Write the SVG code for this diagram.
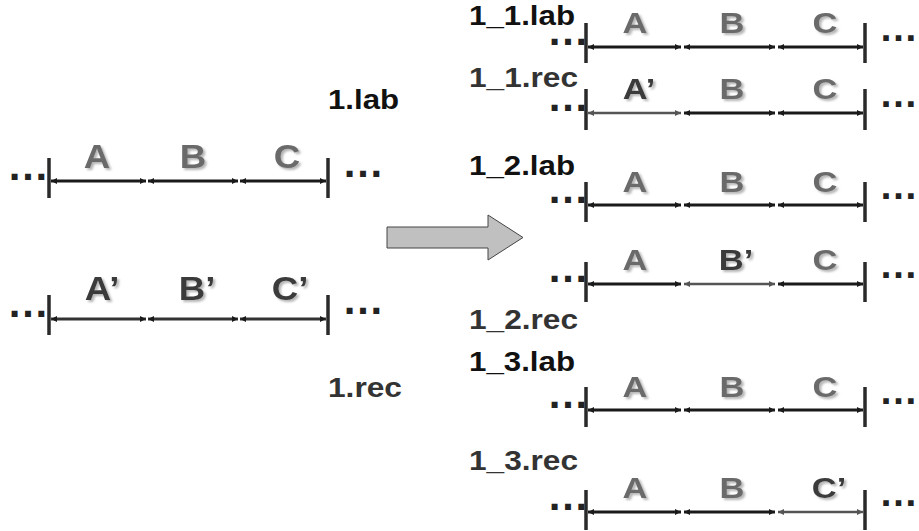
<svg xmlns="http://www.w3.org/2000/svg" width="919" height="531" viewBox="0 0 919 531">
<style>
  .lbl{font-family:"Liberation Sans",Arial,sans-serif;font-weight:bold;font-size:27px}
  .lab{fill:#111}
  .rec{fill:#333}
  .L{font-family:"Liberation Sans",Arial,sans-serif;font-weight:bold;text-anchor:middle;fill:#6b6b6b;filter:url(#sh)}
  .P{fill:#3a3a3a}
  .big{font-size:34px}
  .sm{font-size:30px}
  .dots{font-family:"Liberation Sans",Arial,sans-serif;font-weight:bold;font-size:42px;fill:#222}
  .rd{font-size:39px}
  .tick{stroke:#2a2a2a;stroke-width:3.5}
  .seg{stroke:#1a1a1a;stroke-width:3;marker-start:url(#ah);marker-end:url(#ah)}
  .seg2{stroke:#555;stroke-width:2.5;marker-start:url(#ah2);marker-end:url(#ah2)}
  .segd{stroke:#333;stroke-width:3;marker-start:url(#ah);marker-end:url(#ah)}
</style>
<defs>
  <filter id="sh" x="-20%" y="-20%" width="150%" height="150%">
    <feDropShadow dx="2" dy="2" stdDeviation="0.8" flood-color="#b5b5b5" flood-opacity="1"/>
  </filter>
  <marker id="ah" markerUnits="userSpaceOnUse" markerWidth="7" markerHeight="7" refX="6" refY="3.5" orient="auto-start-reverse">
    <path d="M0,0.5 L6,3.5 L0,6.5 z" fill="#1a1a1a"/>
  </marker>
  <marker id="ah2" markerUnits="userSpaceOnUse" markerWidth="7" markerHeight="7" refX="6" refY="3.5" orient="auto-start-reverse">
    <path d="M0,0.5 L6,3.5 L0,6.5 z" fill="#555"/>
  </marker>
</defs>

<!-- left top row -->
<g id="left-lab">
  <text class="dots" x="7" y="180">…</text>
  <line class="tick" x1="49" y1="158" x2="49" y2="198"/>
  <line class="tick" x1="328" y1="158" x2="328" y2="198"/>
  <line class="seg" x1="51" y1="181" x2="146" y2="181"/>
  <line class="seg" x1="148" y1="181" x2="238" y2="181"/>
  <line class="seg" x1="240" y1="181" x2="326" y2="181"/>
  <text class="L big" transform="translate(97,168) scale(1.08,1)">A</text>
  <text class="L big" transform="translate(193,168) scale(1.08,1)">B</text>
  <text class="L big" transform="translate(287,168) scale(1.08,1)">C</text>
  <text class="dots" x="342" y="177">…</text>
  <text class="lbl lab" x="328" y="109" textLength="71" lengthAdjust="spacingAndGlyphs">1.lab</text>
</g>

<!-- left bottom row -->
<g id="left-rec">
  <text class="dots" x="7" y="317">…</text>
  <line class="tick" x1="49" y1="295" x2="49" y2="335"/>
  <line class="tick" x1="328" y1="295" x2="328" y2="335"/>
  <line class="segd" x1="51" y1="319" x2="146" y2="319"/>
  <line class="segd" x1="148" y1="319" x2="238" y2="319"/>
  <line class="segd" x1="240" y1="319" x2="326" y2="319"/>
  <text class="L big P" transform="translate(102,300) scale(1.08,1)">A’</text>
  <text class="L big P" transform="translate(197,300) scale(1.08,1)">B’</text>
  <text class="L big P" transform="translate(290,300) scale(1.08,1)">C’</text>
  <text class="dots" x="342" y="314">…</text>
  <text class="lbl rec" x="328" y="397" textLength="74" lengthAdjust="spacingAndGlyphs">1.rec</text>
</g>

<!-- big arrow -->
<g id="arrow">
  <path d="M387,227 L488,227 L488,215 L523,237.5 L488,260 L488,248 L387,248 Z" fill="#c0c0c0" stroke="#444" stroke-width="1"/>
</g>

<!-- right rows -->
<g id="r1">
  <text class="lbl lab" x="469" y="25" textLength="106" lengthAdjust="spacingAndGlyphs">1_1.lab</text>
  <text class="dots" x="547" y="45">…</text>
  <line class="tick" x1="586" y1="23" x2="586" y2="63"/>
  <line class="tick" x1="865" y1="23" x2="865" y2="63"/>
  <line class="seg" x1="588" y1="47" x2="681" y2="47"/>
  <line class="seg" x1="684" y1="47" x2="775" y2="47"/>
  <line class="seg" x1="778" y1="47" x2="863" y2="47"/>
  <text class="L sm" transform="translate(635,33) scale(1.15,1)">A</text>
  <text class="L sm" transform="translate(732,33) scale(1.15,1)">B</text>
  <text class="L sm" transform="translate(825,33) scale(1.15,1)">C</text>
  <text class="dots rd" x="879" y="41">…</text>
</g>
<g id="r2">
  <text class="lbl rec" x="469" y="87" textLength="109" lengthAdjust="spacingAndGlyphs">1_1.rec</text>
  <text class="dots" x="547" y="111">…</text>
  <line class="tick" x1="586" y1="89" x2="586" y2="130"/>
  <line class="tick" x1="865" y1="89" x2="865" y2="130"/>
  <line class="seg2" x1="588" y1="113" x2="681" y2="113"/>
  <line class="seg" x1="684" y1="113" x2="775" y2="113"/>
  <line class="seg" x1="778" y1="113" x2="863" y2="113"/>
  <text class="L sm P" transform="translate(639,99) scale(1.15,1)">A’</text>
  <text class="L sm" transform="translate(732,99) scale(1.15,1)">B</text>
  <text class="L sm" transform="translate(825,99) scale(1.15,1)">C</text>
  <text class="dots rd" x="879" y="107">…</text>
</g>
<g id="r3">
  <text class="lbl lab" x="469" y="175" textLength="106" lengthAdjust="spacingAndGlyphs">1_2.lab</text>
  <text class="dots" x="547" y="203">…</text>
  <line class="tick" x1="586" y1="182" x2="586" y2="222"/>
  <line class="tick" x1="865" y1="182" x2="865" y2="222"/>
  <line class="seg" x1="588" y1="205" x2="681" y2="205"/>
  <line class="seg" x1="684" y1="205" x2="775" y2="205"/>
  <line class="seg" x1="778" y1="205" x2="863" y2="205"/>
  <text class="L sm" transform="translate(635,192) scale(1.15,1)">A</text>
  <text class="L sm" transform="translate(732,192) scale(1.15,1)">B</text>
  <text class="L sm" transform="translate(825,192) scale(1.15,1)">C</text>
  <text class="dots rd" x="879" y="199">…</text>
</g>
<g id="r4">
  <text class="lbl rec" x="469" y="329" textLength="109" lengthAdjust="spacingAndGlyphs">1_2.rec</text>
  <text class="dots" x="547" y="282">…</text>
  <line class="tick" x1="586" y1="262" x2="586" y2="302"/>
  <line class="tick" x1="865" y1="262" x2="865" y2="302"/>
  <line class="seg" x1="588" y1="284" x2="681" y2="284"/>
  <line class="seg2" x1="684" y1="284" x2="775" y2="284"/>
  <line class="seg" x1="778" y1="284" x2="863" y2="284"/>
  <text class="L sm" transform="translate(635,270) scale(1.15,1)">A</text>
  <text class="L sm P" transform="translate(736,270) scale(1.15,1)">B’</text>
  <text class="L sm" transform="translate(825,270) scale(1.15,1)">C</text>
  <text class="dots rd" x="879" y="278">…</text>
</g>
<g id="r5">
  <text class="lbl lab" x="469" y="371" textLength="106" lengthAdjust="spacingAndGlyphs">1_3.lab</text>
  <text class="dots" x="547" y="408">…</text>
  <line class="tick" x1="586" y1="387" x2="586" y2="427"/>
  <line class="tick" x1="865" y1="387" x2="865" y2="427"/>
  <line class="seg" x1="588" y1="410" x2="681" y2="410"/>
  <line class="seg" x1="684" y1="410" x2="775" y2="410"/>
  <line class="seg" x1="778" y1="410" x2="863" y2="410"/>
  <text class="L sm" transform="translate(635,397) scale(1.15,1)">A</text>
  <text class="L sm" transform="translate(732,397) scale(1.15,1)">B</text>
  <text class="L sm" transform="translate(825,397) scale(1.15,1)">C</text>
  <text class="dots rd" x="879" y="404">…</text>
</g>
<g id="r6">
  <text class="lbl rec" x="469" y="470" textLength="109" lengthAdjust="spacingAndGlyphs">1_3.rec</text>
  <text class="dots" x="547" y="510">…</text>
  <line class="tick" x1="586" y1="490" x2="586" y2="530"/>
  <line class="tick" x1="865" y1="490" x2="865" y2="530"/>
  <line class="seg" x1="588" y1="512" x2="681" y2="512"/>
  <line class="seg" x1="684" y1="512" x2="775" y2="512"/>
  <line class="seg2" x1="778" y1="512" x2="863" y2="512"/>
  <text class="L sm" transform="translate(635,498) scale(1.15,1)">A</text>
  <text class="L sm" transform="translate(732,498) scale(1.15,1)">B</text>
  <text class="L sm P" transform="translate(829,498) scale(1.15,1)">C’</text>
  <text class="dots rd" x="879" y="506">…</text>
</g>
</svg>
